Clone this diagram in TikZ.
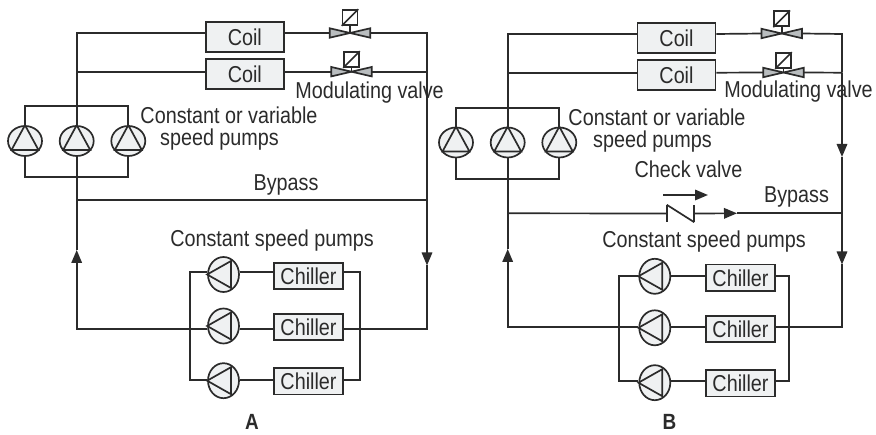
\documentclass[tikz,border=0pt]{standalone}
\usepackage{fontspec}
\setmainfont[FakeStretch=0.86]{Liberation Sans}
\usetikzlibrary{arrows.meta,shapes.geometric}
\definecolor{ink}{HTML}{2B2B2B}
\definecolor{boxfill}{HTML}{EFF1F2}
\definecolor{valvefill}{HTML}{B9BDBF}
\tikzset{
	pipe/.style={draw=ink,line width=1.7pt,line join=miter},
	flowtip/.style={pipe,-{Triangle[length=13pt,width=10.5pt]}},
	lbl/.style={anchor=base,inner sep=0pt,text=ink,font=\fontsize{23}{25}\selectfont},
	capt/.style={lbl,font=\fontsize{22}{24}\selectfont\bfseries},
	coilbox/.style={lbl,anchor=center,draw=ink,fill=boxfill,line width=1.7pt,minimum width=78pt,minimum height=30pt},
	chillerbox/.style={coilbox,minimum width=69pt,minimum height=26.5pt},
	upump/.style={ellipse,draw=ink,fill=boxfill,line width=1.7pt,inner sep=0pt,minimum width=34pt,minimum height=30pt},
	lpump/.style={upump,minimum width=31pt,minimum height=35pt},
	valvebody/.style={inner sep=0pt,minimum width=40pt,minimum height=9pt},
	actbox/.style={draw=ink,fill=white,line width=1.7pt,inner sep=0pt,minimum size=15pt},
	checkbody/.style={inner sep=0pt,minimum width=27pt,minimum height=17pt},
}
\begin{document}
\begin{tikzpicture}[x=1pt,y=-1pt,line cap=butt]
	\useasboundingbox (0,0) rectangle (876,435);
	\foreach \n/\x/\y in {ca1/244.8/36.8,ca2/244.8/73.8,cb1/676.5/37.8,cb2/676.5/75}{\node[coilbox] (\n) at (\x,\y) {Coil};}
	\foreach \n/\x/\y in {ha1/308.5/276,ha2/308.5/327,ha3/308.5/381.3,hb1/740.5/277.8,hb2/740.5/329,hb3/740.5/383.3}{\node[chillerbox] (\n) at (\x,\y) {Chiller};}
	\foreach \n/\x/\y in {ua1/25/141,ua2/76.7/141,ua3/128.3/141,ub1/456/142.5,ub2/507.7/142.5,ub3/559.3/142.5}{\node[upump] (\n) at (\x,\y) {};}
	\foreach \n/\x/\y in {pa1/223.5/274.5,pa2/223.5/326,pa3/223.5/380.7,pb1/654.8/276.3,pb2/654.8/327.8,pb3/654.8/382.7}{\node[lpump] (\n) at (\x,\y) {};}
	\foreach \n/\x/\y in {va1/350/33,va2/351.5/71.7,vb1/781.7/33.5,vb2/783.5/72.5}{\node[valvebody] (\n) at (\x,\y) {};}
	\foreach \n/\x/\y in {aa1/350/17.5,aa2/351.5/59.5,ab1/781.7/18.8,ab2/783.5/60.5}{\node[actbox] (\n) at (\x,\y) {};}
	\node[checkbody] (cv) at (680.5,213.5) {};
	\coordinate (ta1) at (76.7,33);
	\coordinate (ta2) at (76.7,71.7);
	\coordinate (tr1) at (427,33);
	\coordinate (tr2) at (427,71.7);
	\coordinate (busa1) at (76.7,105.7);
	\coordinate (busa2) at (76.7,177);
	\coordinate (bya1) at (76.7,200.3);
	\coordinate (bya2) at (427,200.3);
	\coordinate (la) at (76.7,328.7);
	\coordinate (ra) at (427,328.7);
	\coordinate (tipa1) at (76.7,250);
	\coordinate (tipa2) at (427,265.5);
	\coordinate (ma1) at (190,272);
	\coordinate (ma3) at (190,380);
	\coordinate (na1) at (360,272);
	\coordinate (na3) at (360,380);
	\coordinate (tb1) at (507.7,34);
	\coordinate (tb2) at (507.7,72.7);
	\coordinate (sr1) at (842,34);
	\coordinate (sr2) at (842,72.7);
	\coordinate (busb1) at (507.7,107.7);
	\coordinate (busb2) at (507.7,179.3);
	\coordinate (byb1) at (507.7,213.3);
	\coordinate (byb2) at (842,213.3);
	\coordinate (lb) at (507.7,326.7);
	\coordinate (rb) at (842,326.7);
	\coordinate (tipb1) at (507.7,249);
	\coordinate (tipb2) at (842,264.5);
	\coordinate (tipb3) at (842,157);
	\coordinate (tipb4) at (737,213.3);
	\coordinate (mb1) at (619,275.7);
	\coordinate (mb3) at (619,381);
	\coordinate (nb1) at (788.7,275.7);
	\coordinate (nb3) at (788.7,381);
	\coordinate (fa) at (663,195);
	\coordinate (fb) at (708,195);
	\draw[pipe] (ua2.north) -- (ta1) -- (ca1.west |- ta1);
	\draw[pipe] (ta2) -- (ca2.west |- ta2);
	\draw[pipe] (ca1.east |- ta1) -- (va1.west);
	\draw[pipe] (ca2.east |- ta2) -- (va2.west);
	\draw[pipe] (va1.east) -- (tr1) -- (tr2);
	\draw[pipe] (va2.east) -- (tr2);
	\draw[flowtip] (tr2) -- (tipa2);
	\draw[pipe] (tipa2) -- (ra) -- (ha2.east |- ra);
	\draw[pipe] (ua1.north) |- (busa1) -| (ua3.north);
	\draw[pipe] (ua1.south) |- (busa2) -| (ua3.south);
	\draw[pipe] (ua2.south) -- (tipa1);
	\draw[flowtip] (la) -- (tipa1);
	\draw[pipe] (pa2.west |- la) -- (la) -- ++(0,-1);
	\draw[pipe] (bya1) -- (bya2);
	\draw[pipe] (pa2.east |- la) -- (ha2.west |- la);
	\draw[pipe] (pa1.west |- ma1) -- (ma1) -- (ma3) -- (pa3.west |- ma3);
	\draw[pipe] (ha1.east |- na1) -- (na1) -- (na3) -- (ha3.east |- na3);
	\draw[pipe] (pa1.east |- ma1) -- (ha1.west |- ma1);
	\draw[pipe] (pa3.east |- ma3) -- (ha3.west |- ma3);
	\draw[pipe] (ub2.north) -- (tb1) -- (cb1.west |- tb1);
	\draw[pipe] (tb2) -- (cb2.west |- tb2);
	\draw[pipe] (cb1.east |- tb1) -- (vb1.west);
	\draw[pipe] (cb2.east |- tb2) -- (vb2.west);
	\draw[pipe] (vb1.east) -- (sr1) -- (sr2);
	\draw[pipe] (vb2.east) -- (sr2);
	\draw[flowtip] (sr2) -- (tipb3);
	\draw[flowtip] (tipb3) -- (tipb2);
	\draw[pipe] (tipb2) -- (rb) -- (hb2.east |- rb);
	\draw[pipe] (ub1.north) |- (busb1) -| (ub3.north);
	\draw[pipe] (ub1.south) |- (busb2) -| (ub3.south);
	\draw[pipe] (ub2.south) -- (tipb1);
	\draw[flowtip] (lb) -- (tipb1);
	\draw[pipe] (pb2.west |- lb) -- (lb) -- ++(0,-1);
	\draw[pipe] (byb1) -- (cv.west);
	\draw[flowtip] (cv.east) -- (tipb4);
	\draw[pipe] (tipb4) -- (byb2);
	\draw[flowtip] (fa) -- (fb);
	\draw[pipe] (pb2.east |- lb) -- (hb2.west |- lb);
	\draw[pipe] (pb1.west |- mb1) -- (mb1) -- (mb3) -- (pb3.west |- mb3);
	\draw[pipe] (hb1.east |- nb1) -- (nb1) -- (nb3) -- (hb3.east |- nb3);
	\draw[pipe] (pb1.east |- mb1) -- (hb1.west |- mb1);
	\draw[pipe] (pb3.east |- mb3) -- (hb3.west |- mb3);
	\draw[pipe] (cv.north west) -- (cv.south west);
	\draw[pipe] (cv.north west) -- (cv.south east);
	\draw[pipe] (cv.north east) -- (cv.south east);
	\foreach \u in {ua1,ua2,ua3,ub1,ub2,ub3}{\draw[pipe] ([shift={(-13.5pt,-9pt)}]\u.center) -- (\u.north) -- ([shift={(13.5pt,-9pt)}]\u.center) -- cycle;}
	\foreach \p in {pa1,pa2,pa3,pb1,pb2,pb3}{\draw[pipe] (\p.west) -- ([shift={(7.5pt,13.5pt)}]\p.center) -- ([shift={(7.5pt,-13.5pt)}]\p.center) -- cycle;}
	\foreach \v/\a in {va1/aa1,va2/aa2,vb1/ab1,vb2/ab2}{
		\draw[pipe] (\a.south) -- (\v.center);
		\draw[pipe,fill=valvefill] (\v.north west) -- (\v.center) -- (\v.south west) -- cycle;
		\draw[pipe,fill=valvefill] (\v.north east) -- (\v.center) -- (\v.south east) -- cycle;
		\draw[pipe] (\a.south west) -- (\a.north east);
	}
	\node[lbl] (ma) at (369.5,99) {Modulating valve};
	\node[lbl] (mb) at (798.5,97.5) {Modulating valve};
	\node[lbl] (cva) at (229,124) {Constant or variable};
	\node[lbl] (spa) at (219.5,146) {speed pumps};
	\node[lbl] (cvb) at (657,126) {Constant or variable};
	\node[lbl] (spb) at (652.5,148) {speed pumps};
	\node[lbl] (bpa) at (286,191) {Bypass};
	\node[lbl] (bpb) at (796.5,202.7) {Bypass};
	\node[lbl] (chk) at (688.5,178) {Check valve};
	\node[lbl] (csa) at (272,246.7) {Constant speed pumps};
	\node[lbl] (csb) at (704,248) {Constant speed pumps};
	\node[capt] (capa) at (252,430) {A};
	\node[capt] (capb) at (669.5,430) {B};
\end{tikzpicture}
\end{document}
